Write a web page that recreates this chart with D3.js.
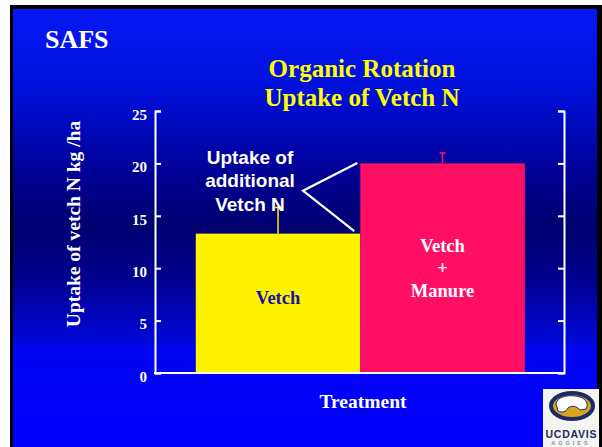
<!DOCTYPE html>
<html>
<head>
<meta charset="utf-8">
<script src="https://cdn.jsdelivr.net/npm/d3@7"></script>
<style>
  html, body { margin: 0; padding: 0; background: #fff; }
  svg { display: block; }
  .serif { font-family: "Liberation Serif", "Times New Roman", serif; font-weight: bold; }
  .sans { font-family: "Liberation Sans", Arial, sans-serif; font-weight: bold; }
</style>
</head>
<body>
<svg id="chart" width="602" height="447"></svg>
<script>
// Data
const treatments = ['Vetch', 'Vetch + Manure'];
const uptake = [13.3, 20];
const errorTop = [15.8, 21];
const barColors = ['#fff200', '#ff0f64'];
const barLabels = [['Vetch'], ['Vetch', '+', 'Manure']];
const barLabelColors = ['#1414a8', '#ffffff'];
const yTicks = [0, 5, 10, 15, 20, 25];
const titleLines = ['Organic Rotation', 'Uptake of Vetch N'];
const noteLines = ['Uptake of', 'additional', 'Vetch N'];

const svg = d3.select('#chart');
const W = 602, H = 447;

// Background gradient (slide look)
const defs = svg.append('defs');
const grad = defs.append('linearGradient')
    .attr('id', 'bg').attr('x1', 0).attr('y1', 0).attr('x2', 0).attr('y2', 1);
[[0, '#0818f4'], [0.18, '#0010dc'], [0.38, '#000092'], [0.5, '#000070'],
 [0.62, '#000090'], [0.76, '#0008d8'], [0.775, '#0004f0'], [1, '#0000ff']]
    .forEach(([o, c]) => grad.append('stop').attr('offset', o).attr('stop-color', c));

svg.append('rect').attr('x', 10).attr('y', 5).attr('width', 592).attr('height', H - 5).attr('fill', '#000');
svg.append('rect').attr('x', 13).attr('y', 9).attr('width', 584).attr('height', H - 9).attr('fill', 'url(#bg)');

// Scales
const x = d3.scaleBand()
    .domain(treatments)
    .range([155, 564])
    .paddingInner(0)
    .paddingOuter(0.243)
    .align(0.51);

const y = d3.scaleLinear()
    .domain([0, 25])
    .range([373, 111]);

// Bars
svg.selectAll('.bar')
    .data(treatments)
    .join('rect')
    .attr('class', 'bar')
    .attr('x', d => x(d))
    .attr('width', x.bandwidth())
    .attr('y', (d, i) => y(uptake[i]))
    .attr('height', (d, i) => y(0) - y(uptake[i]))
    .attr('fill', (d, i) => barColors[i]);

// Error bars
treatments.forEach((d, i) => {
    const cx = x(d) + x.bandwidth() / 2;
    svg.append('line')
        .attr('x1', cx).attr('x2', cx)
        .attr('y1', y(uptake[i])).attr('y2', y(errorTop[i]))
        .attr('stroke', barColors[i]).attr('stroke-width', 1.5);
    svg.append('line')
        .attr('x1', cx - 3).attr('x2', cx + 3)
        .attr('y1', y(errorTop[i])).attr('y2', y(errorTop[i]))
        .attr('stroke', barColors[i]).attr('stroke-width', 1.5);
});

// Labels inside bars
treatments.forEach((d, i) => {
    const cx = x(d) + x.bandwidth() / 2;
    const lines = barLabels[i];
    const shift = i === 0 ? -5 : 0;
    lines.forEach((t, j) => {
        svg.append('text')
            .attr('class', 'serif')
            .attr('x', cx)
            .attr('y', y(uptake[i] / 2) + 6 + shift + (j - (lines.length - 1) / 2) * 22.5)
            .attr('text-anchor', 'middle')
            .attr('font-size', 18.5)
            .attr('fill', barLabelColors[i])
            .text(t);
    });
});

// Axes
const yAxisLeft = d3.axisLeft(y)
    .tickValues(yTicks)
    .tickSizeInner(-6)
    .tickSizeOuter(-6)
    .tickPadding(8);

const gl = svg.append('g')
    .attr('transform', 'translate(155,0)')
    .call(yAxisLeft);

const yAxisRight = d3.axisRight(y)
    .tickValues(yTicks)
    .tickSizeInner(-6)
    .tickSizeOuter(-6)
    .tickFormat('');

const gr = svg.append('g')
    .attr('transform', 'translate(564,0)')
    .call(yAxisRight);

[gl, gr].forEach(g => {
    g.selectAll('path, line').attr('stroke', '#fff').attr('stroke-width', 2);
    g.selectAll('text')
        .attr('class', 'serif')
        .attr('font-size', 15)
        .attr('fill', '#fff')
        .attr('dy', '0.55em');
});

svg.append('line')
    .attr('x1', 154).attr('x2', 565)
    .attr('y1', y(0)).attr('y2', y(0))
    .attr('stroke', '#fff').attr('stroke-width', 2);

// Annotation with pointer lines
const pinkLeft = x(treatments[1]);
const vx = 303, vy = 190.7;
svg.append('polyline')
    .attr('points', [[pinkLeft - 3, y(uptake[1]) - 0.5], [vx, vy], [pinkLeft - 6, y(uptake[0]) - 2.5]].join(' '))
    .attr('fill', 'none')
    .attr('stroke', '#fff')
    .attr('stroke-width', 2.2);

noteLines.forEach((t, j) => {
    svg.append('text')
        .attr('class', 'sans')
        .attr('x', 250)
        .attr('y', 163.5 + j * 23.8)
        .attr('text-anchor', 'middle')
        .attr('font-size', 19)
        .attr('fill', '#fff')
        .text(t);
});

// Titles
svg.append('text')
    .attr('class', 'serif')
    .attr('x', 45).attr('y', 48)
    .attr('font-size', 26)
    .attr('fill', '#fff')
    .text('SAFS');

titleLines.forEach((t, j) => {
    svg.append('text')
        .attr('class', 'serif')
        .attr('x', 362)
        .attr('y', 77 + j * 29)
        .attr('text-anchor', 'middle')
        .attr('font-size', 25)
        .attr('fill', '#ffff00')
        .text(t);
});

svg.append('text')
    .attr('class', 'serif')
    .attr('transform', 'translate(80,224) rotate(-90)')
    .attr('text-anchor', 'middle')
    .attr('font-size', 19.5)
    .attr('fill', '#fff')
    .text('Uptake of vetch N kg /ha');

svg.append('text')
    .attr('class', 'serif')
    .attr('x', 363).attr('y', 408)
    .attr('text-anchor', 'middle')
    .attr('font-size', 19.5)
    .attr('fill', '#fff')
    .text('Treatment');

// UC Davis logo (rough)
const logo = svg.append('g');
logo.append('rect').attr('x', 543).attr('y', 389).attr('width', 56).attr('height', 58).attr('fill', '#f4f4f0');
logo.append('ellipse').attr('cx', 572).attr('cy', 406).attr('rx', 21).attr('ry', 13)
    .attr('fill', '#d8a520').attr('stroke', '#1c2a66').attr('stroke-width', 4);
logo.append('path')
    .attr('d', 'M556,404 C557,396 570,394 580,397 C586,399 589,404 586,409 L580,410 C577,406 571,405 568,408 C566,412 562,413 558,411 Z')
    .attr('fill', '#fff').attr('stroke', '#1c2a66').attr('stroke-width', 1);
logo.append('text')
    .attr('class', 'sans')
    .attr('x', 571).attr('y', 438)
    .attr('text-anchor', 'middle')
    .attr('font-size', 10.5)
    .attr('fill', '#1c2a66')
    .attr('textLength', 51)
    .text('UCDAVIS');
logo.append('text')
    .attr('class', 'sans')
    .attr('x', 571).attr('y', 445)
    .attr('text-anchor', 'middle')
    .attr('font-size', 5.5)
    .attr('fill', '#8890b0')
    .attr('letter-spacing', 3)
    .text('AGGIES');
svg.append('rect').attr('x', 599).attr('y', 5).attr('width', 3).attr('height', H - 5).attr('fill', '#000');
</script>
</body>
</html>
